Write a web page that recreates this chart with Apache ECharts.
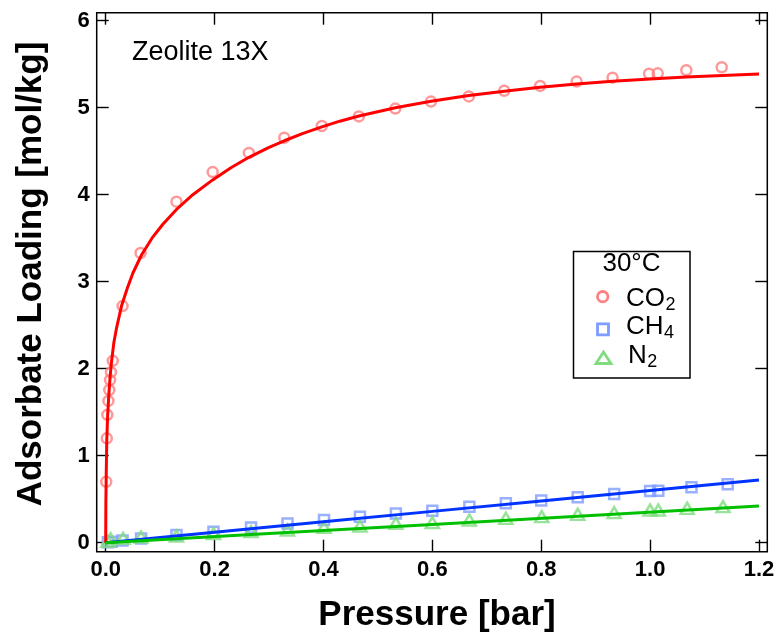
<!DOCTYPE html>
<html>
<head>
<meta charset="utf-8">
<script src="https://cdn.jsdelivr.net/npm/echarts@6/dist/echarts.min.js"></script>
<style>
  html, body { margin: 0; padding: 0; background: #fff; }
  #chart { width: 778px; height: 632px; }
</style>
</head>
<body>
<div id="chart"></div>
<script>
// ---- Measured isotherm points, zeolite 13X at 30 °C ----
const co2Pressure = [0.001, 0.002, 0.003, 0.005, 0.0066, 0.008, 0.0097, 0.013, 0.031, 0.064,
  0.130, 0.1965, 0.263, 0.328, 0.397, 0.465, 0.532, 0.5975, 0.667, 0.732,
  0.798, 0.865, 0.931, 0.998, 1.014, 1.0665, 1.1315];
const co2Loading = [0.70, 1.20, 1.47, 1.63, 1.755, 1.87, 1.96, 2.09, 2.72, 3.33,
  3.92, 4.26, 4.48, 4.655, 4.79, 4.90, 4.99, 5.07, 5.13, 5.195,
  5.25, 5.30, 5.345, 5.39, 5.395, 5.43, 5.465];

const ch4Pressure = [0.004, 0.011, 0.031, 0.065, 0.130, 0.198, 0.267, 0.334, 0.401, 0.467,
  0.533, 0.600, 0.668, 0.735, 0.800, 0.867, 0.934, 1.000, 1.015, 1.076, 1.1425];
const ch4Loading = [0.006, 0.011, 0.025, 0.048, 0.089, 0.126, 0.175, 0.220, 0.261, 0.299,
  0.336, 0.368, 0.414, 0.453, 0.485, 0.522, 0.560, 0.594, 0.598, 0.637, 0.671];

const n2Pressure = [0.004, 0.009, 0.032, 0.065, 0.130, 0.198, 0.267, 0.334, 0.401, 0.467,
  0.533, 0.600, 0.668, 0.735, 0.801, 0.867, 0.934, 1.000, 1.015, 1.068, 1.134];
const n2Loading = [0.015, 0.045, 0.050, 0.065, 0.077, 0.105, 0.127, 0.146, 0.177, 0.192,
  0.223, 0.230, 0.261, 0.280, 0.299, 0.326, 0.345, 0.376, 0.376, 0.395, 0.414];

// ---- Fitted isotherm curves ----
const co2FitPressure = [0, 0.0003, 0.001, 0.002, 0.0035, 0.0055, 0.008, 0.0105, 0.015, 0.02,
  0.029, 0.04, 0.05, 0.066, 0.085, 0.105, 0.13, 0.16, 0.1965, 0.23,
  0.263, 0.3, 0.328, 0.36, 0.397, 0.43, 0.465, 0.532, 0.5975, 0.667,
  0.732, 0.798, 0.865, 0.931, 1.0, 1.066, 1.133, 1.2];
const co2FitLoading = [0, 0.45, 0.8, 1.18, 1.45, 1.68, 1.9, 2.07, 2.3, 2.47,
  2.72, 2.93, 3.10, 3.31, 3.50, 3.66, 3.83, 4.00, 4.17, 4.31,
  4.43, 4.545, 4.62, 4.70, 4.78, 4.845, 4.905, 5.0, 5.075, 5.14,
  5.19, 5.235, 5.272, 5.303, 5.33, 5.352, 5.371, 5.387];

const ch4FitPressure = [0, 0.2, 0.4, 0.6, 0.8, 1.0, 1.2];
const ch4FitLoading = [0, 0.12, 0.24, 0.36, 0.48, 0.60, 0.721];

const n2FitPressure = [0, 0.3, 0.6, 0.9, 1.2];
const n2FitLoading = [0, 0.105, 0.21, 0.315, 0.422];

// ---- Tick labels ----
const xTickLabels = ['0.0', '0.2', '0.4', '0.6', '0.8', '1.0', '1.2'];
const yTickLabels = ['0', '1', '2', '3', '4', '5', '6'];

// ---- Text ----
const xTitle = 'Pressure [bar]';
const yTitle = 'Adsorbate Loading [mol/kg]';
const panelLabel = 'Zeolite 13X';
const legendTitle = '30°C';
const legendNames = [['CO', '2'], ['CH', '4'], ['N', '2']];

const FONT = "'Liberation Sans', Arial, Helvetica, sans-serif";
const COLORS = {
  co2Mark: '#ff8080', ch4Mark: '#7f9cff', n2Mark: '#80dc80',
  co2Line: '#ff0000', ch4Line: '#0033ff', n2Line: '#00c000'
};

const pairs = (xs, ys) => xs.map((x, i) => [x, ys[i]]);

const chart = echarts.init(document.getElementById('chart'), null, { renderer: 'canvas' });

// text width helper for placing subscripts
const measureCtx = document.createElement('canvas').getContext('2d');
function textWidth(t, size, weight) {
  measureCtx.font = (weight || 'normal') + ' ' + size + 'px ' + FONT;
  return measureCtx.measureText(t).width;
}

const tickStyle = { show: true, inside: true, length: 12, lineStyle: { color: '#000', width: 1.4 } };
const hiddenLine = { show: false, onZero: false };
const labelStyle = { fontFamily: FONT, fontSize: 22, fontWeight: 'bold', color: '#000' };

function hollowScatter(name, xs, ys, symbol, size, color) {
  return {
    name, type: 'scatter', data: pairs(xs, ys), symbol, symbolSize: size, clip: false, z: 2,
    itemStyle: { color: 'rgba(0,0,0,0)', borderColor: color, borderWidth: 2.5 },
    emphasis: { disabled: true }, silent: true
  };
}
function fitLine(name, xs, ys, color) {
  return {
    name, type: 'line', data: pairs(xs, ys), showSymbol: false, symbol: 'none', clip: false, z: 3,
    smooth: false,
    lineStyle: { color, width: 3, join: 'round' }, emphasis: { disabled: true }, silent: true
  };
}

// legend block built from graphic elements
const legendGraphics = [];
legendGraphics.push({
  type: 'rect', shape: { x: 573.5, y: 251.5, width: 116.5, height: 126.5 },
  style: { fill: '#fff', stroke: '#000', lineWidth: 1.5 }, z: 10
});
legendGraphics.push({
  type: 'text', x: 631.5, y: 277, z: 11,
  style: { text: legendTitle, font: '26px ' + FONT, fill: '#000', align: 'center', verticalAlign: 'bottom' }
});
const rowBaselines = [306.5, 334.5, 363.5];
legendNames.forEach((nm, i) => {
  const base = rowBaselines[i];
  const x0 = i === 2 ? 628 : 626;
  legendGraphics.push({
    type: 'text', x: x0, y: base + 5, z: 11,
    style: { text: nm[0], font: '26px ' + FONT, fill: '#000', align: 'left', verticalAlign: 'bottom' }
  });
  legendGraphics.push({
    type: 'text', x: x0 + textWidth(nm[0], 26) + 0.5, y: base + 8, z: 11,
    style: { text: nm[1], font: '18px ' + FONT, fill: '#000', align: 'left', verticalAlign: 'bottom' }
  });
});
legendGraphics.push({
  type: 'circle', shape: { cx: 602.7, cy: 296.7, r: 5.2 }, z: 11,
  style: { fill: 'none', stroke: COLORS.co2Mark, lineWidth: 2.8 }
});
legendGraphics.push({
  type: 'rect', shape: { x: 597.5, y: 323.8, width: 11, height: 11 }, z: 11,
  style: { fill: 'none', stroke: COLORS.ch4Mark, lineWidth: 2.8 }
});
legendGraphics.push({
  type: 'polygon', shape: { points: [[603.5, 352], [611, 363.5], [596, 363.5]] }, z: 11,
  style: { fill: 'none', stroke: COLORS.n2Mark, lineWidth: 2.8 }
});

const option = {
  animation: false,
  backgroundColor: '#fff',
  grid: { left: 105.7, right: 19, top: 20.7, bottom: 89.3, containLabel: false },
  xAxis: [
    {
      type: 'value', position: 'bottom', min: 0, max: 1.2, interval: 0.2, offset: 9,
      axisLine: hiddenLine, splitLine: { show: false }, axisTick: tickStyle,
      axisLabel: Object.assign({ margin: 7, formatter: v => xTickLabels[Math.round(v / 0.2)] }, labelStyle)
    },
    {
      type: 'value', position: 'top', min: 0, max: 1.2, interval: 0.2, offset: 8,
      axisLine: hiddenLine, splitLine: { show: false }, axisTick: tickStyle,
      axisLabel: { show: false }
    }
  ],
  yAxis: [
    {
      type: 'value', position: 'left', min: 0, max: 6, interval: 1, offset: 9,
      axisLine: hiddenLine, splitLine: { show: false }, axisTick: tickStyle,
      axisLabel: Object.assign({ margin: 7, formatter: v => yTickLabels[Math.round(v)] }, labelStyle)
    },
    {
      type: 'value', position: 'right', min: 0, max: 6, interval: 1, offset: 8.3,
      axisLine: hiddenLine, splitLine: { show: false }, axisTick: tickStyle,
      axisLabel: { show: false }
    }
  ],
  series: [
    hollowScatter('CO2', co2Pressure, co2Loading, 'circle', 10, COLORS.co2Mark),
    hollowScatter('CH4', ch4Pressure, ch4Loading, 'rect', 10, COLORS.ch4Mark),
    hollowScatter('N2', n2Pressure, n2Loading, 'triangle', [13, 11], COLORS.n2Mark),
    fitLine('CO2 fit', co2FitPressure, co2FitLoading, COLORS.co2Line),
    fitLine('CH4 fit', ch4FitPressure, ch4FitLoading, COLORS.ch4Line),
    fitLine('N2 fit', n2FitPressure, n2FitLoading, COLORS.n2Line)
  ],
  graphic: [
    // plot frame
    {
      type: 'rect', shape: { x: 96.7, y: 12.7, width: 670.6, height: 539 }, z: 5,
      style: { fill: 'none', stroke: '#000', lineWidth: 1.5 }, silent: true
    },
    {
      type: 'text', x: 437, y: 615.2, z: 5,
      style: { text: xTitle, font: 'bold 35px ' + FONT, fill: '#000', align: 'center', verticalAlign: 'middle' }
    },
    {
      type: 'text', x: 31, y: 274, rotation: Math.PI / 2, z: 5,
      style: { text: yTitle, font: 'bold 35px ' + FONT, fill: '#000', align: 'center', verticalAlign: 'middle' }
    },
    {
      type: 'text', x: 132, y: 66, z: 5,
      style: { text: panelLabel, font: '27px ' + FONT, fill: '#000', align: 'left', verticalAlign: 'bottom' }
    }
  ].concat(legendGraphics)
};

chart.setOption(option);
</script>
</body>
</html>
